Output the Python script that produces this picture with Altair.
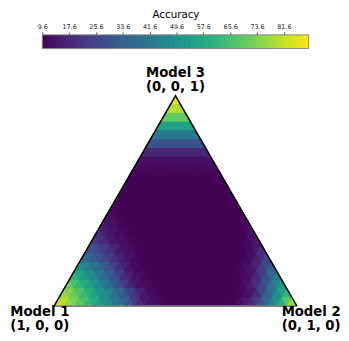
import altair as alt
import numpy as np
import pandas as pd

# ---- colour bar -------------------------------------------------------------
cb_min, cb_max = 9.6, 89.0
tick_values = [9.6, 17.6, 25.6, 33.6, 41.6, 49.6, 57.6, 65.6, 73.6, 81.6]
cb_title = "Accuracy"

# ---- vertex labels ----------------------------------------------------------
vertex_labels = ["Model 1\n(1, 0, 0)", "Model 2\n(0, 1, 0)", "Model 3\n(0, 0, 1)"]

# ---- accuracy: interior floor level, and per triangular cell ----------------
floor_acc = 10
r0 = [86]
r1 = [80, 80, 80]
r2 = [70, 70, 70, 70, 70]
r3 = [55, 55, 55, 55, 55, 55, 55]
r4 = [42, 42, 42, 42, 42, 42, 42, 42, 42]
r5 = [30, 30, 30, 30, 30, 30, 30, 30, 30, 30, 30]
r6 = [18, 18, 18, 18, 18, 18, 18, 18, 18, 18, 18, 18, 18]
r7 = [12, 12, 12, 12, 12, 12, 12, 12, 12, 12, 12, 12, 12, 12, 12]
r8 = [11, 11, 11, 11, 11, 11, 11, 11, 11, 11, 11, 11, 11, 11, 11, 11, 11]
r9 = [10, 10, 10, 10, 10, 10, 10, 10, 10, 10, 10, 10, 10, 10, 10, 10, 10, 10, 10]
r10 = [10, 10, 10, 10, 10, 10, 10, 10, 10, 10, 10, 10, 10, 10, 10, 10, 10, 10, 10, 10, 10]
r11 = [10, 10, 10, 10, 10, 10, 10, 10, 10, 10, 10, 10, 10, 10, 10, 10, 10, 10, 10, 10, 10, 10, 10]
r12 = [11,
       10, 10, 10, 10, 10, 10, 10, 10, 10, 10, 10, 10, 10, 10, 10, 10, 10, 10, 10, 10, 10, 10, 10, 10]
r13 = [12, 11,
       10, 10, 10, 10, 10, 10, 10, 10, 10, 10, 10, 10, 10, 10, 10, 10, 10, 10, 10, 10, 10, 10, 10, 10, 10]
r14 = ([14, 13, 12, 11]
       + [10, 10, 10, 10, 10, 10, 10, 10, 10, 10, 10, 10, 10, 10, 10, 10, 10, 10, 10, 10, 10, 10, 10, 10]
       + [11])
r15 = ([18, 16, 14, 13, 12, 11]
       + [10, 10, 10, 10, 10, 10, 10, 10, 10, 10, 10, 10, 10, 10, 10, 10, 10, 10, 10, 10, 10, 10, 10]
       + [11, 13])
r16 = ([23, 21, 18, 16, 14, 13, 12, 11]
       + [10, 10, 10, 10, 10, 10, 10, 10, 10, 10, 10, 10, 10, 10, 10, 10, 10, 10, 10, 10, 10, 10]
       + [11, 12, 15])
r17 = ([30, 28, 25, 23, 20, 18, 15, 13, 12, 11]
       + [10, 10, 10, 10, 10, 10, 10, 10, 10, 10, 10, 10, 10, 10, 10, 10, 10, 10, 10, 10, 10]
       + [11, 12, 15, 19])
r18 = ([38, 35, 32, 29, 26, 23, 20, 17, 14, 13, 11]
       + [10, 10, 10, 10, 10, 10, 10, 10, 10, 10, 10, 10, 10, 10, 10, 10, 10, 10, 10, 10, 10]
       + [11, 13, 16, 20, 25])
r19 = ([50, 46, 43, 40, 36, 32, 28, 24, 20, 17, 14, 12, 11]
       + [10, 10, 10, 10, 10, 10, 10, 10, 10, 10, 10, 10, 10, 10, 10, 10, 10, 10, 10]
       + [11, 12, 14, 17, 22, 27, 33])
r20 = ([61, 57, 53, 49, 45, 41, 37, 33, 29, 24, 20, 16, 13, 12, 11]
       + [10, 10, 10, 10, 10, 10, 10, 10, 10, 10, 10, 10, 10, 10, 10, 10, 10, 10]
       + [11, 12, 14, 18, 23, 29, 35, 42])
r21 = ([70, 66, 62, 58, 54, 50, 46, 42, 37, 32, 28, 23, 18, 15, 13, 12, 11]
       + [10, 10, 10, 10, 10, 10, 10, 10, 10, 10, 10, 10, 10, 10, 10, 10, 10]
       + [11, 13, 16, 20, 26, 32, 39, 45, 52])
r22 = ([77, 74, 71, 67, 63, 60, 56, 52, 48, 44, 39, 35, 30, 25, 21, 17, 14, 12, 11]
       + [10, 10, 10, 10, 10, 10, 10, 10, 10, 10, 10, 10, 10, 10, 10, 10]
       + [11, 12, 15, 20, 26, 33, 40, 47, 55, 62])
r23 = ([83, 80, 76, 73, 69, 66, 62, 59, 54, 50, 46, 42, 38, 34, 29, 23, 19, 15, 13, 12, 11]
       + [10, 10, 10, 10, 10, 10, 10, 10, 10, 10, 10, 10, 10, 10]
       + [11, 12, 15, 19, 24, 30, 37, 44, 51, 60, 68, 77])
rows = [r0, r1, r2, r3, r4, r5, r6, r7, r8, r9, r10, r11,
        r12, r13, r14, r15, r16, r17, r18, r19, r20, r21, r22, r23]
for i, r in enumerate(rows):
    assert len(r) == 2 * i + 1, (i, len(r))

N = len(rows)
HS = float(np.sqrt(3) / 2)
TOP = N * HS

# barycentric lattice -> GeoJSON triangles (planar units, side = 1)
features = []
for i, row in enumerate(rows):
    y_t = TOP - i * HS
    y_b = TOP - (i + 1) * HS
    for j, v in enumerate(row):
        if v == floor_acc:
            continue  # covered by the floor triangle underneath
        k = j // 2
        if j % 2 == 0:
            xl = N / 2 - (i + 1) / 2 + k
            ring = [[xl, y_b], [xl + 1, y_b], [xl + 0.5, y_t], [xl, y_b]]
        else:
            xl = N / 2 - i / 2 + k
            ring = [[xl, y_t], [xl + 0.5, y_b], [xl + 1, y_t], [xl, y_t]]
        features.append({"type": "Feature",
                         "properties": {"acc": v},
                         "geometry": {"type": "Polygon", "coordinates": [ring]}})
floor_feature = [{"type": "Feature", "properties": {"acc": floor_acc},
                  "geometry": {"type": "Polygon",
                               "coordinates": [[[0, 0], [N, 0], [N / 2, TOP], [0, 0]]]}}]

# ---- scales -----------------------------------------------------------------
W, H = 340, 325
X0, X1, Y0 = 47, 295, 301
PX = (X1 - X0) / N
xs = alt.Scale(domain=[0, N], range=[X0, X1], nice=False, zero=False)
ys = alt.Scale(domain=[0, TOP], range=[Y0, Y0 - TOP * PX], nice=False, zero=False)
col = alt.Scale(scheme="viridis", domain=[cb_min, cb_max])
cbx = alt.Scale(domain=[cb_min, cb_max], range=[35, 307], nice=False, zero=False)
proj = dict(type="identity", reflectY=True, scale=PX, translate=[X0, Y0])

floor = alt.Chart(alt.Data(values=floor_feature)).mark_geoshape(
    strokeWidth=0, opacity=1
).encode(
    color=alt.Color("properties.acc:Q", scale=col, legend=None),
).project(**proj)

field = alt.Chart(alt.Data(values=features)).mark_geoshape(
    strokeWidth=0.8, strokeJoin="round", opacity=1
).encode(
    color=alt.Color("properties.acc:Q", scale=col, legend=None),
    stroke=alt.Stroke("properties.acc:Q", scale=col, legend=None),
).project(**proj)

edges = pd.DataFrame({"x": [0, N / 2, N], "y": [0, TOP, 0], "o": [0, 1, 2]})
sides = alt.Chart(edges).mark_line(color="black", strokeWidth=1.5).encode(
    x=alt.X("x:Q", scale=xs, axis=None),
    y=alt.Y("y:Q", scale=ys, axis=None),
    order="o:Q",
)
base_df = pd.DataFrame({"x": [0, N], "y": [0, 0]})
base = alt.Chart(base_df).mark_line(color="#808080", strokeWidth=1.6).encode(
    x=alt.X("x:Q", scale=xs, axis=None),
    y=alt.Y("y:Q", scale=ys, axis=None),
)

lab_df = pd.DataFrame({"x": [0, N, N / 2], "y": [0, 0, TOP], "label": vertex_labels})
offsets = [(-14.5, 10.3), (14.5, 10.3), (0, -19)]
label_layers = []
for k, (dx, dy) in enumerate(offsets):
    label_layers.append(
        alt.Chart(lab_df.iloc[[k]]).mark_text(
            dx=dx, dy=dy, lineBreak="\n", lineHeight=14.5, fontSize=13.5,
            fontWeight="bold", font="DejaVu Sans", baseline="alphabetic",
            align="center", color="black",
        ).encode(
            x=alt.X("x:Q", scale=xs, axis=None),
            y=alt.Y("y:Q", scale=ys, axis=None),
            text="label:N",
        )
    )

# colour bar
cb_steps = np.arange(cb_min, cb_max, 0.4)
cb_df = pd.DataFrame({"v": cb_steps,
                      "v2": np.minimum(cb_steps + 0.6, cb_max),
                      "mid": np.minimum(cb_steps + 0.2, cb_max)})
cbar = alt.Chart(cb_df).mark_rect().encode(
    x=alt.X("v:Q", scale=cbx, title=cb_title,
            axis=alt.Axis(orient="top", offset=-24, values=tick_values, format=".1f",
                          domain=False, grid=False, tickSize=3, tickWidth=0.8,
                          tickColor="#222", labelFontSize=6.5, labelColor="#222",
                          labelPadding=2, labelFlush=False, labelOverlap=False,
                          labelFont="DejaVu Sans", titleFont="DejaVu Sans",
                          titleFontSize=10.5, titleFontWeight="normal",
                          titleColor="black", titlePadding=5)),
    x2="v2:Q",
    y=alt.value(24),
    y2=alt.value(38),
    color=alt.Color("mid:Q", scale=col, legend=None),
)
cb_frame_df = pd.DataFrame({"a": [cb_min], "b": [cb_max]})
cb_frame = alt.Chart(cb_frame_df).mark_rect(
    fillOpacity=0, stroke="#888888", strokeWidth=1
).encode(
    x=alt.X("a:Q", scale=cbx, axis=None),
    x2="b:Q",
    y=alt.value(24),
    y2=alt.value(38),
)

chart = alt.layer(floor, field, base, sides, cbar, cb_frame, *label_layers).resolve_scale(
    x="independent", y="independent"
).properties(
    width=W, height=H, padding=0, autosize=alt.AutoSizeParams(type="none")
).configure_view(strokeWidth=0)

chart.save("out.html", embed_options={"renderer": "svg", "actions": False})
